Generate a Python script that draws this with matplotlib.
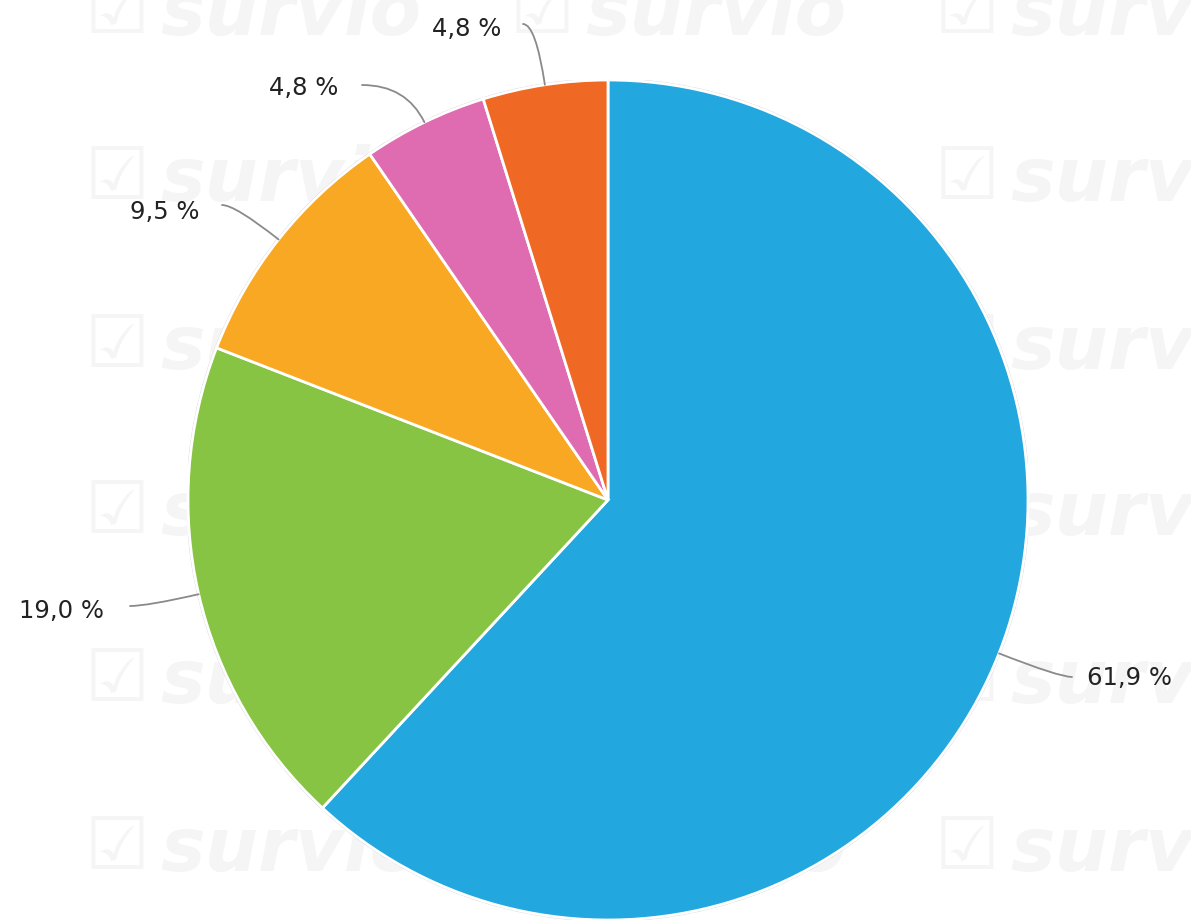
import numpy as np
import matplotlib
matplotlib.use('Agg')
import matplotlib.pyplot as plt
from matplotlib.patches import Circle

# slice values (percent), clockwise from 12 o'clock
values = [61.9, 19.0, 9.5, 4.8, 4.8]
labels = ['61,9 %', '19,0 %', '9,5 %', '4,8 %', '4,8 %']
colors = ['#22a7df', '#88c443', '#f9a823', '#df6cb0', '#ef6924']

W, H = 1191, 922
cx, cy, R = 608, 500, 420   # pie centre / radius in pixels

# where each leader line ends and where its text sits (pixels)
leader_end = [(1072, 677), (130, 606), (222, 205), (362, 85), (523, 24)]
text_pos = [(1087, 678), (104, 611), (199, 212), (338, 88), (501, 29)]
text_ha = ['left', 'right', 'right', 'right', 'right']


def to_data(p):
    return ((p[0] - cx) / R, (cy - p[1]) / R)


fig = plt.figure(figsize=(W / 100, H / 100), dpi=100)
fig.patch.set_facecolor('white')

# faint watermark grid behind the pie
wm_col = '#f5f5f5'
for gy in [14, 180, 348, 514, 682, 850]:
    for gx in [85, 510, 935]:
        fig.text(gx / W, 1 - gy / H, '\u2611', fontsize=52, color=wm_col,
                 ha='left', va='center', zorder=0)
        fig.text((gx + 75) / W, 1 - gy / H, 'survio', fontsize=54,
                 fontweight='bold', fontstyle='italic', color=wm_col,
                 ha='left', va='center', zorder=0)

ax = fig.add_axes([(cx - R) / W, (H - cy - R) / H, 2 * R / W, 2 * R / H])
ax.set_zorder(1)
ax.patch.set_visible(False)

ax.add_patch(Circle((0, 0), 1.004, facecolor='#d2d2d2', edgecolor='none', zorder=1))
wedges, _ = ax.pie(values, colors=colors, startangle=90, counterclock=False,
                   radius=1, wedgeprops=dict(edgecolor='white', linewidth=2))
for w in wedges:
    w.set_zorder(2)
ax.set_xlim(-1, 1)
ax.set_ylim(-1, 1)
ax.axis('off')

# leader lines + labels
start = 90.0
for i, v in enumerate(values):
    mid = start - v * 3.6 / 2
    start -= v * 3.6
    a = np.deg2rad(mid)
    p0 = (np.cos(a), np.sin(a))
    pe = to_data(leader_end[i])
    ax.annotate('', xy=p0, xytext=pe, xycoords='data', textcoords='data',
                arrowprops=dict(arrowstyle='-', color='#8a8a8a', lw=1.3,
                                shrinkA=0, shrinkB=0,
                                connectionstyle='angle3,angleA=0,angleB=%.2f' % mid),
                annotation_clip=False, zorder=3)
    tx, ty = to_data(text_pos[i])
    ax.text(tx, ty, labels[i], ha=text_ha[i], va='center', fontsize=17.5,
            color='#222222', clip_on=False, zorder=4)

fig.savefig('out.png', dpi=100, facecolor='white')
